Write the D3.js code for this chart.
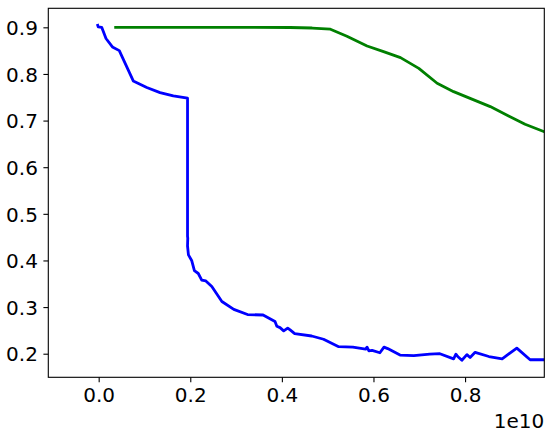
<!DOCTYPE html>
<html lang="en">
  <head>
    <meta charset="utf-8" />
    <title>curves</title>
    <script src="https://d3js.org/d3.v7.min.js"></script>
    <style>
      body { margin: 0; padding: 0; background: #fff; }
      svg { display: block; }
      .domain { display: none; }
    </style>
  </head>
  <body>
    <svg id="chart" width="552" height="436"></svg>
    <script>
      // blue series (x in units of 1e10)
      var blueX = [-0.003, -0.001, 0.0066, 0.016, 0.030, 0.045, 0.0755, 0.105, 0.134, 0.163, 0.194,
        0.194, 0.1945, 0.194, 0.196, 0.203, 0.209, 0.2175, 0.225, 0.234, 0.247, 0.269, 0.295, 0.325,
        0.359, 0.385, 0.389, 0.396, 0.404, 0.4127, 0.418, 0.428, 0.465, 0.491, 0.524, 0.555, 0.583,
        0.586, 0.590, 0.597, 0.614, 0.623, 0.631, 0.658, 0.688, 0.723, 0.745, 0.775, 0.780, 0.784,
        0.793, 0.804, 0.811, 0.822, 0.852, 0.881, 0.913, 0.942, 0.99];
      var blueY = [0.907, 0.901, 0.900, 0.876, 0.858, 0.850, 0.785, 0.771, 0.760, 0.753, 0.748,
        0.452, 0.448, 0.431, 0.412, 0.400, 0.378, 0.372, 0.358, 0.356, 0.344, 0.312, 0.295, 0.284,
        0.283, 0.269, 0.259, 0.256, 0.249, 0.255, 0.251, 0.243, 0.238, 0.231, 0.215, 0.214, 0.210,
        0.214, 0.206, 0.207, 0.202, 0.214, 0.211, 0.197, 0.196, 0.199, 0.200, 0.189, 0.199, 0.194,
        0.186, 0.198, 0.192, 0.203, 0.194, 0.189, 0.212, 0.187, 0.187];

      // green series
      var greenX = [0.034, 0.221, 0.418, 0.466, 0.506, 0.542, 0.586, 0.622, 0.659, 0.699, 0.739,
        0.775, 0.815, 0.855, 0.895, 0.931, 0.973, 0.99];
      var greenY = [0.900, 0.900, 0.8996, 0.8985, 0.896, 0.881, 0.860, 0.848, 0.835, 0.812, 0.780,
        0.762, 0.746, 0.730, 0.710, 0.692, 0.676, 0.669];

      var xTicks = [0.0, 0.2, 0.4, 0.6, 0.8];
      var yTicks = [0.2, 0.3, 0.4, 0.5, 0.6, 0.7, 0.8, 0.9];

      var svg = d3.select("#chart");
      var m = {left: 48.3, right: 544.3, top: 8.3, bottom: 377.3};
      var fontSize = "20px";

      var x = d3.scaleLinear().domain([-0.110, 0.973]).range([m.left, m.right]);
      var y = d3.scaleLinear().domain([0.1494, 0.9408]).range([m.bottom, m.top]);

      svg.append("defs").append("clipPath").attr("id", "clip")
        .append("rect")
        .attr("x", m.left).attr("y", m.top)
        .attr("width", m.right - m.left).attr("height", m.bottom - m.top);

      var line = d3.line()
        .x(function(d){ return x(d[0]); })
        .y(function(d){ return y(d[1]); });

      var plot = svg.append("g").attr("clip-path", "url(#clip)");
      plot.append("path")
        .datum(d3.zip(greenX, greenY))
        .attr("fill", "none")
        .attr("stroke", "#008000")
        .attr("stroke-width", 2.8)
        .attr("stroke-linejoin", "round")
        .attr("d", line);
      plot.append("path")
        .datum(d3.zip(blueX, blueY))
        .attr("fill", "none")
        .attr("stroke", "#0000ff")
        .attr("stroke-width", 2.8)
        .attr("stroke-linejoin", "round")
        .attr("d", line);

      // axes
      svg.append("g")
        .attr("transform", "translate(0," + m.bottom + ")")
        .call(d3.axisBottom(x).tickValues(xTicks).tickFormat(d3.format(".1f"))
          .tickSizeInner(4.9).tickPadding(5.5));
      var yAxis = svg.append("g")
        .attr("transform", "translate(" + m.left + ",0)")
        .call(d3.axisLeft(y).tickValues(yTicks).tickFormat(d3.format(".1f"))
          .tickSizeInner(4.9).tickPadding(5.5));
      svg.selectAll(".tick line").attr("stroke", "#000").attr("stroke-width", 1.1);
      svg.selectAll(".tick text")
        .attr("fill", "#000")
        .style("font-family", "DejaVu Sans, sans-serif")
        .style("font-size", fontSize);
      yAxis.selectAll(".tick text").attr("dy", "0.36em");

      // frame
      svg.append("rect")
        .attr("x", m.left).attr("y", m.top)
        .attr("width", m.right - m.left).attr("height", m.bottom - m.top)
        .attr("fill", "none")
        .attr("stroke", "#000")
        .attr("stroke-width", 1.1);

      svg.append("text")
        .attr("x", m.right)
        .attr("y", 427.7)
        .attr("text-anchor", "end")
        .style("font-family", "DejaVu Sans, sans-serif")
        .style("font-size", fontSize)
        .text("1e10");
    </script>
  </body>
</html>
